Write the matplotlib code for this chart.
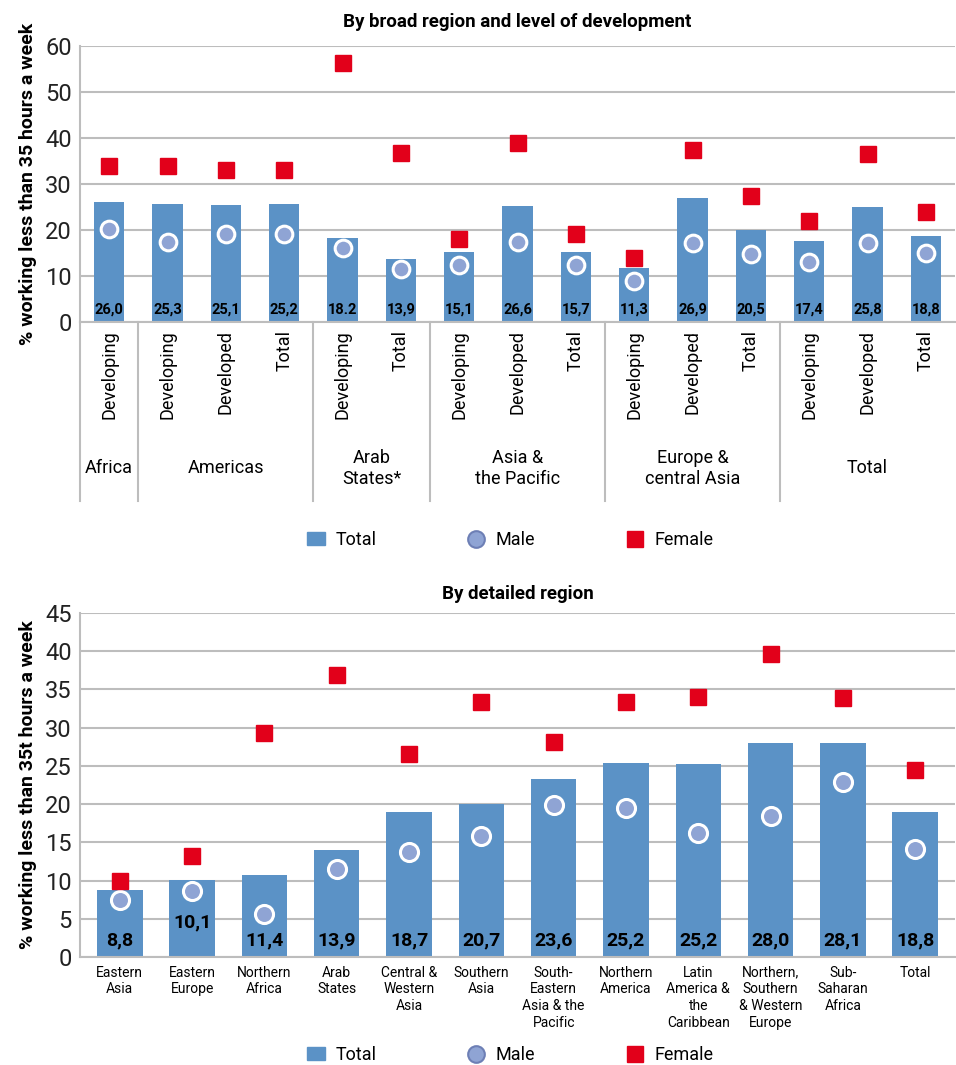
import matplotlib.pyplot as plt
from matplotlib.transforms import blended_transform_factory
from matplotlib.lines import Line2D
from matplotlib.patches import Patch

plt.rcParams['font.family'] = ['Liberation Sans Narrow', 'Roboto', 'DejaVu Sans']

BLUE = "#5b92c6"
RED = "#e2001a"
MALE = "#8fa4d4"
GRID = "#bdbdbd"

# --- top chart data ---
top_cats = ["Developing", "Developing", "Developed", "Total", "Developing", "Total",
            "Developing", "Developed", "Total", "Developing", "Developed", "Total",
            "Developing", "Developed", "Total"]
top_groups = ["Africa", "Americas", "Arab\nStates*", "Asia &\nthe Pacific",
              "Europe &\ncentral Asia", "Total"]
top_group_sizes = [1, 3, 2, 3, 3, 3]
top_total = [26.0, 25.7, 25.4, 25.7, 18.2, 13.6, 15.3, 25.2, 15.2, 11.8, 26.9, 20.1, 17.6, 25.0, 18.8]
top_labels = ["26,0", "25,3", "25,1", "25,2", "18.2", "13,9", "15,1", "26,6", "15,7",
              "11,3", "26,9", "20,5", "17,4", "25,8", "18,8"]
top_male = [20.3, 17.4, 19.1, 19.1, 16.1, 11.6, 12.4, 17.4, 12.4, 9.0, 17.1, 14.7, 13.0, 17.2, 14.9]
top_female = [34.0, 34.0, 33.0, 33.0, 56.3, 36.7, 18.0, 39.0, 19.2, 14.0, 37.5, 27.5, 22.0, 36.5, 24.0]

# --- bottom chart data ---
bot_cats = ["Eastern\nAsia", "Eastern\nEurope", "Northern\nAfrica", "Arab\nStates",
            "Central &\nWestern\nAsia", "Southern\nAsia", "South-\nEastern\nAsia & the\nPacific",
            "Northern\nAmerica", "Latin\nAmerica &\nthe\nCaribbean", "Northern,\nSouthern\n& Western\nEurope",
            "Sub-\nSaharan\nAfrica", "Total"]
bot_total = [8.7, 10.1, 10.7, 14.0, 19.0, 20.0, 23.3, 25.4, 25.3, 28.0, 28.0, 19.0]
bot_labels = ["8,8", "10,1", "11,4", "13,9", "18,7", "20,7", "23,6", "25,2", "25,2", "28,0", "28,1", "18,8"]
bot_label_y = [2.2, 4.5, 2.2, 2.2, 2.2, 2.2, 2.2, 2.2, 2.2, 2.2, 2.2, 2.2]
bot_male = [7.5, 8.6, 5.6, 11.5, 13.7, 15.8, 19.9, 19.5, 16.2, 18.5, 22.9, 14.1]
bot_female = [10.0, 13.2, 29.3, 36.9, 26.6, 33.4, 28.1, 33.4, 34.0, 39.6, 33.9, 24.5]

fig = plt.figure(figsize=(9.56, 10.65), dpi=100)
W, H = 956, 1065


def style(ax, ymax, step):
    ax.set_ylim(0, ymax)
    ax.set_yticks(range(0, ymax + 1, step))
    ax.yaxis.grid(True, color=GRID, lw=1.5)
    ax.set_axisbelow(True)
    for s in ["top", "right"]:
        ax.spines[s].set_visible(False)
    for s in ["left", "bottom"]:
        ax.spines[s].set_color(GRID)
        ax.spines[s].set_linewidth(1.5)
    ax.tick_params(axis="y", labelsize=17, length=0, pad=6, labelcolor="#222222")
    ax.tick_params(axis="x", length=0)
    ax.set_xticks([])


def markers(ax, x, male, female, ms_m, ms_f):
    ax.plot(x, male, "o", ms=ms_m, mfc=MALE, mec="white", mew=2.2, ls="none", zorder=3)
    ax.plot(x, female, "s", ms=ms_f, color=RED, ls="none", zorder=3)


# top
ax1 = fig.add_axes([80 / W, 1 - 322 / H, 875 / W, 276 / H])
x1 = list(range(len(top_cats)))
ax1.bar(x1, top_total, width=0.52, color=BLUE, zorder=2)
markers(ax1, x1, top_male, top_female, 12, 12)
style(ax1, 60, 10)
ax1.set_xlim(-0.5, len(top_cats) - 0.5)
ax1.set_title("By broad region and level of development", fontsize=13.5, fontweight="bold", pad=14)
ax1.set_ylabel("% working less than 35 hours a week", fontsize=14, fontweight="bold", labelpad=6)
for xi, lab in zip(x1, top_labels):
    ax1.text(xi, 2.6, lab, ha="center", va="center", fontsize=10.5, fontweight="bold", zorder=4)
tr = blended_transform_factory(ax1.transData, ax1.transAxes)
for xi, c in zip(x1, top_cats):
    ax1.text(xi, -0.03, c, rotation=90, ha="center", va="top", fontsize=13, transform=tr)
start = 0
for g, n in zip(top_groups, top_group_sizes):
    ax1.add_line(Line2D([start - 0.5] * 2, [0, -0.65], transform=tr, color=GRID, lw=1.5, clip_on=False))
    ax1.text(start + (n - 1) / 2, -0.53, g, ha="center", va="center", fontsize=13, transform=tr)
    start += n

handles = [Patch(color=BLUE, label="Total"),
           Line2D([], [], marker="o", ls="none", ms=12, mfc=MALE, mec="#6d7fb5", mew=1.5, label="Male"),
           Line2D([], [], marker="s", ls="none", ms=12, color=RED, label="Female")]
fig.legend(handles=handles, loc="center", bbox_to_anchor=(510 / W, 1 - 540 / H), ncol=3,
           frameon=False, fontsize=13, handlelength=1.0, handletextpad=0.6, columnspacing=5)

# bottom
ax2 = fig.add_axes([80 / W, 1 - 957 / H, 875 / W, 344 / H])
x2 = list(range(len(bot_cats)))
ax2.bar(x2, bot_total, width=0.63, color=BLUE, zorder=2)
markers(ax2, x2, bot_male, bot_female, 13, 12)
style(ax2, 45, 5)
ax2.set_xlim(-0.55, len(bot_cats) - 0.45)
ax2.set_title("By detailed region", fontsize=13.5, fontweight="bold", pad=10)
ax2.set_ylabel("% working less than 35t hours a week", fontsize=14, fontweight="bold", labelpad=6)
for xi, lab, ly in zip(x2, bot_labels, bot_label_y):
    ax2.text(xi, ly, lab, ha="center", va="center", fontsize=14, fontweight="bold", zorder=4)
tr2 = blended_transform_factory(ax2.transData, ax2.transAxes)
for xi, c in zip(x2, bot_cats):
    ax2.text(xi, -0.025, c, ha="center", va="top", fontsize=10, linespacing=1.25, transform=tr2)

fig.legend(handles=handles, loc="center", bbox_to_anchor=(510 / W, 1 - 1055 / H), ncol=3,
           frameon=False, fontsize=13, handlelength=1.0, handletextpad=0.6, columnspacing=5)

fig.savefig("out.png", dpi=100)
